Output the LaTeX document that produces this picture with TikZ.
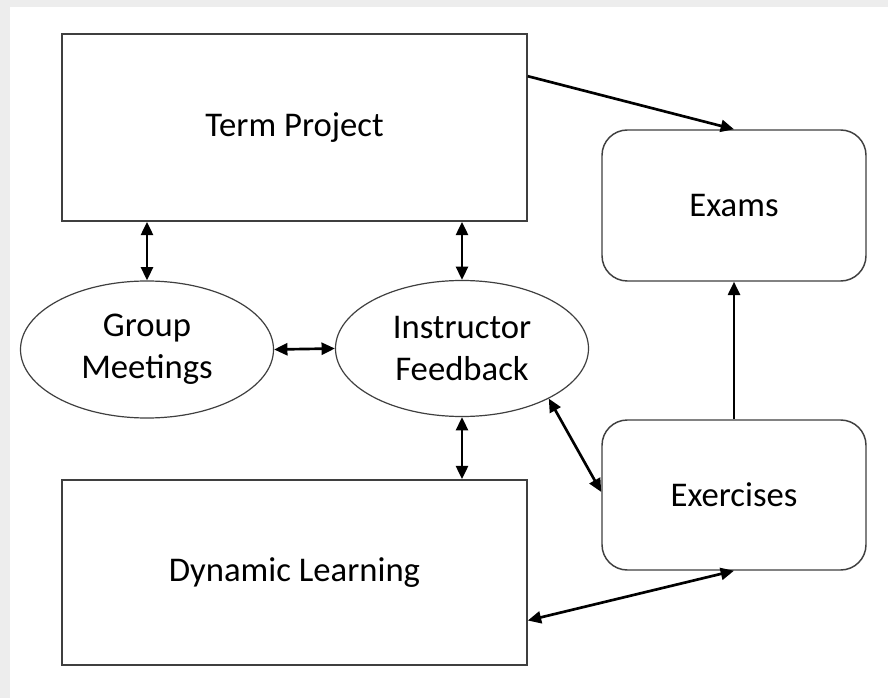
\documentclass[tikz,border=0pt]{standalone}
\usepackage{fontspec}
\setmainfont{Carlito}
\usetikzlibrary{arrows.meta,calc,shapes.geometric}
\definecolor{bgray}{HTML}{EDEDED}
\definecolor{boxline}{HTML}{3F3F3F}
\begin{document}
\begin{tikzpicture}[x=0.75pt,y=-0.75pt,
  sqbox/.style={draw=boxline,line width=1.2pt,fill=white,inner sep=0pt,font=\fontsize{26}{31.5}\selectfont},
  rbox/.style={draw=boxline,line width=1.1pt,fill=white,rounded corners=19pt,inner sep=0pt,font=\fontsize{26}{31.5}\selectfont},
  ell/.style={ellipse,draw=boxline,line width=0.9pt,fill=white,inner sep=0pt,align=center,font=\fontsize{26}{31.5}\selectfont},
  arr/.style={line width=2pt,-{Triangle[length=10pt,width=9pt]}},
  darr/.style={line width=2pt,{Triangle[length=10pt,width=9pt]}-{Triangle[length=10pt,width=9pt]}}]
\useasboundingbox (0,0) rectangle (888,698);
\fill[bgray] (0,0) rectangle (888,698);
\fill[white] (10,7) rectangle (888,698);
\node[sqbox,minimum width=465*0.75pt,minimum height=187*0.75pt] (tp) at (294.5,127.5) {Term Project};
\node[sqbox,minimum width=465*0.75pt,minimum height=185*0.75pt] (dl) at (294.5,572.5) {Dynamic Learning};
\node[rbox,minimum width=264*0.75pt,minimum height=151*0.75pt] (exams) at (734,205.5) {Exams};
\node[rbox,minimum width=264*0.75pt,minimum height=150*0.75pt] (exer) at (734,495) {Exercises};
\node[ell,minimum width=253*0.75pt,minimum height=137*0.75pt] (gm) at (147,349.5) {Group\\Meetings};
\node[ell,minimum width=253*0.75pt,minimum height=136*0.75pt] (if) at (462,348.5) {Instructor\\Feedback};
\draw[arr] ($(tp.north east)+(0,43)$) -- (exams.north);
\draw[arr] (exer.north) -- (exams.south);
\draw[darr] (tp.south -| gm.north) -- (gm.north);
\draw[darr] (tp.south -| if.north) -- (if.north);
\draw[darr] (gm.east) -- (if.west);
\draw[darr] (if.south) -- (dl.north -| if.south);
\draw[darr] (if.-30) -- ($(exer.west)+(0,-3)$);
\draw[darr] ($(dl.east)+(0,48)$) -- (exer.south);
\end{tikzpicture}
\end{document}
